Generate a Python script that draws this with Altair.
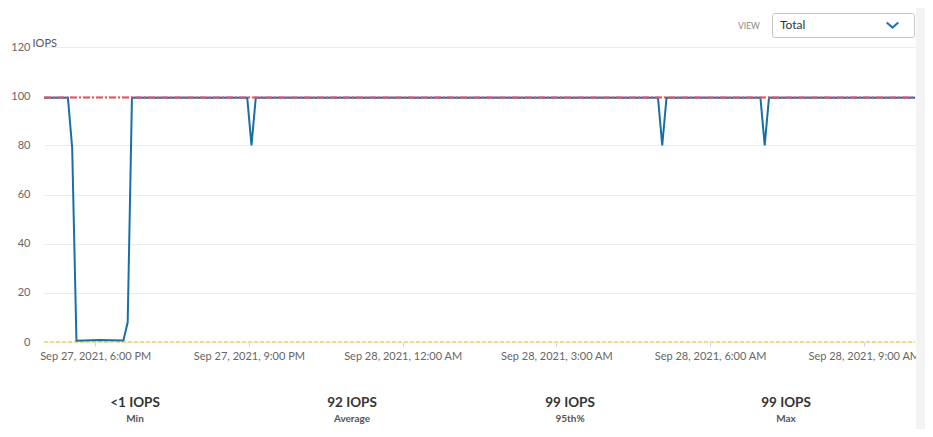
import altair as alt
import pandas as pd

# ---- data ----
blue_times = [
    "2021-09-27T17:00:00", "2021-09-27T17:28:00", "2021-09-27T17:33:00",
    "2021-09-27T17:38:00", "2021-09-27T18:05:00", "2021-09-27T18:33:00",
    "2021-09-27T18:38:00", "2021-09-27T18:43:00", "2021-09-27T20:58:00",
    "2021-09-27T21:03:00", "2021-09-27T21:08:00", "2021-09-28T04:59:00",
    "2021-09-28T05:04:00", "2021-09-28T05:09:00", "2021-09-28T06:59:00",
    "2021-09-28T07:04:00", "2021-09-28T07:09:00", "2021-09-28T10:00:00",
]
blue_values = [99.4, 99.4, 79, 0.5, 0.8, 0.6, 8, 99.4, 99.4, 80, 99.4,
               99.4, 80, 99.4, 99.4, 80, 99.4, 99.4]

ref_times = ["2021-09-27T17:00:00", "2021-09-28T10:00:00"]
red_values = [99.5, 99.5]
yellow_values = [0, 0]

x_domain = ["2021-09-27T17:00:00", "2021-09-28T10:00:00"]
x_ticks = ["2021-09-27T18:00:00", "2021-09-27T21:00:00", "2021-09-28T00:00:00",
           "2021-09-28T03:00:00", "2021-09-28T06:00:00", "2021-09-28T09:00:00"]
y_ticks = [0, 20, 40, 60, 80, 100, 120]

stat_values = ["<1 IOPS", "92 IOPS", "99 IOPS", "99 IOPS"]
stat_names = ["Min", "Average", "95th%", "Max"]
view_label = "VIEW"
view_option = "Total"


def to_dt(s):
    t = pd.Timestamp(s)
    return alt.DateTime(year=t.year, month=t.month, date=t.day,
                        hours=t.hour, minutes=t.minute)


FONT = "Lato"
W, H = 871, 295

x_enc = alt.X(
    "t:T",
    scale=alt.Scale(domain=[to_dt(s) for s in x_domain]),
    axis=alt.Axis(
        values=[to_dt(s) for s in x_ticks],
        format="%b %-d, %Y, %-I:%M %p",
        title=None, grid=False, domain=False,
        ticks=True, tickColor="#cfd0e3", tickSize=4,
        labelPadding=4, labelFont=FONT, labelFontSize=11,
        labelColor="#666666", labelOverlap=False, labelFlush=False,
    ),
)
y_enc = alt.Y(
    "v:Q",
    scale=alt.Scale(domain=[0, 120], nice=False),
    axis=alt.Axis(
        values=y_ticks, title="IOPS", titleAngle=0, titleX=-12, titleY=-1,
        titleAlign="left", titleBaseline="alphabetic", titleFont=FONT,
        titleFontSize=11, titleFontWeight="normal", titleColor="#555555",
        grid=True, gridColor="#ebebeb", domain=False, ticks=False,
        labelPadding=14, labelFont=FONT, labelFontSize=11, labelColor="#666666",
    ),
)

blue_df = pd.DataFrame({"t": blue_times, "v": blue_values})
red_df = pd.DataFrame({"t": ref_times, "v": red_values})
yellow_df = pd.DataFrame({"t": ref_times, "v": yellow_values})

yellow = alt.Chart(yellow_df).mark_line(
    color="#f1de7c", strokeWidth=2, strokeDash=[4, 2]
).encode(x=x_enc, y=y_enc)
blue = alt.Chart(blue_df).mark_line(
    color="#1a6ea6", strokeWidth=2
).encode(x=x_enc, y=y_enc)
red = alt.Chart(red_df).mark_line(
    color="#ef4b55", strokeWidth=2, strokeDash=[7, 2, 2, 2]
).encode(x=x_enc, y=y_enc)

one = alt.Data(values=[{}])
deco = []

# bottom summary statistics
stat_x = [91, 308, 526, 742]
for sx, val, name in zip(stat_x, stat_values, stat_names):
    deco.append(alt.Chart(one).mark_text(
        text=val, font=FONT, fontSize=13.5, fontWeight="bold", color="#333333",
        align="center", baseline="alphabetic"
    ).encode(x=alt.value(sx), y=alt.value(360)))
    deco.append(alt.Chart(one).mark_text(
        text=name, font=FONT, fontSize=10, fontWeight="bold", color="#555555",
        align="center", baseline="alphabetic"
    ).encode(x=alt.value(sx), y=alt.value(375)))

# VIEW selector
deco.append(alt.Chart(one).mark_text(
    text=view_label, font=FONT, fontSize=8.5, color="#888888",
    align="left", baseline="middle"
).encode(x=alt.value(694), y=alt.value(-21)))
deco.append(alt.Chart(one).mark_rect(
    fill="white", stroke="#c4c4c4", strokeWidth=1, cornerRadius=2
).encode(x=alt.value(728.5), x2=alt.value(870.5),
         y=alt.value(-33.5), y2=alt.value(-9.5)))
deco.append(alt.Chart(one).mark_text(
    text=view_option, font=FONT, fontSize=12, color="#333333",
    align="left", baseline="middle"
).encode(x=alt.value(736), y=alt.value(-22)))
deco.append(alt.Chart(one).mark_point(
    shape="M-1,-0.45L0,0.45L1,-0.45", filled=False, stroke="#2b6cc4",
    strokeWidth=2, size=135, opacity=1
).encode(x=alt.value(848.5), y=alt.value(-22)))

# right-hand grey strip
deco.append(alt.Chart(one).mark_rect(fill="#f3f3f3").encode(
    x=alt.value(872), x2=alt.value(881), y=alt.value(-39), y2=alt.value(382)))

chart = alt.layer(yellow, blue, red, *deco).properties(
    width=W, height=H,
    padding={"left": 36, "top": 39, "right": 10, "bottom": 87},
    autosize=alt.AutoSizeParams(type="none"),
).configure_view(stroke=None)

chart.save("out.html", embed_options={"renderer": "svg", "actions": False})
